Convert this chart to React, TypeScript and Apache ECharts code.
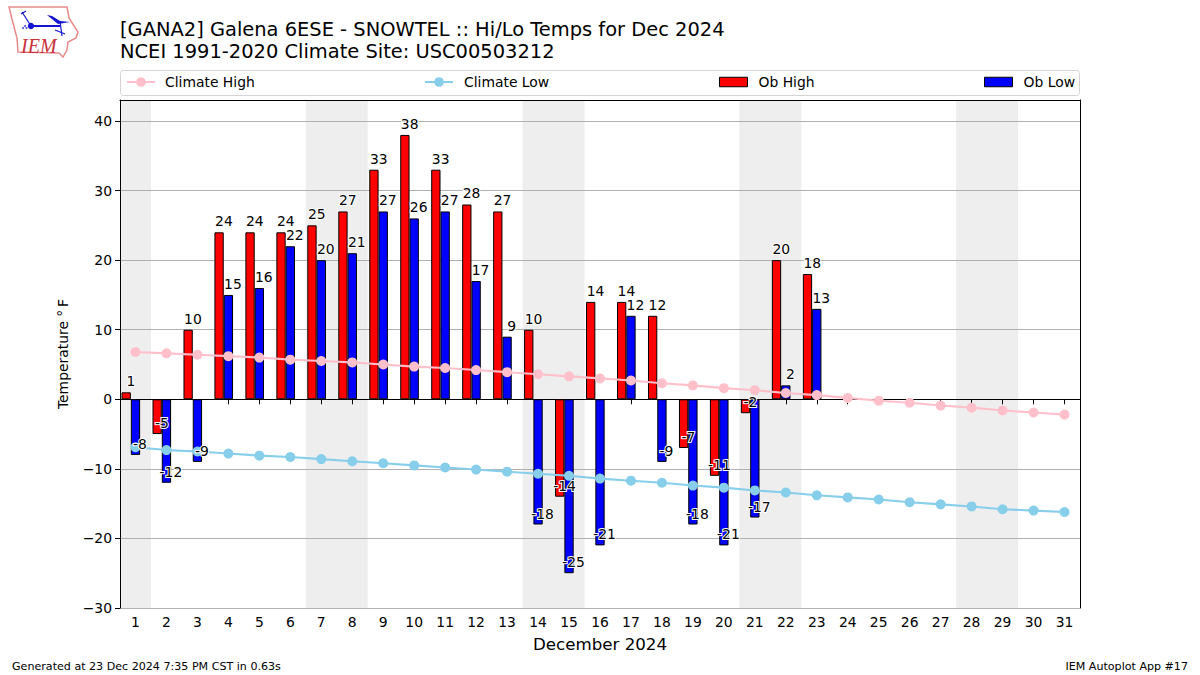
import React, { useEffect, useRef } from "react";
import * as echarts from "echarts";

const titleLines = [
  "[GANA2] Galena 6ESE - SNOWTEL :: Hi/Lo Temps for Dec 2024",
  "NCEI 1991-2020 Climate Site: USC00503212",
];
const footerLeft = "Generated at 23 Dec 2024 7:35 PM CST in 0.63s";
const footerRight = "IEM Autoplot App #17";
const days = Array.from({ length: 31 }, (_, i) => String(i + 1));
const yTicks = [-30, -20, -10, 0, 10, 20, 30, 40];
const obHigh = [1, -5, 10, 24, 24, 24, 25, 27, 33, 38, 33, 28, 27, 10, -14, 14, 14, 12, -7, -11, -2, 20, 18];
const obLow = [-8, -12, -9, 15, 16, 22, 20, 21, 27, 26, 27, 17, 9, -18, -25, -21, 12, -9, -18, -21, -17, 2, 13];
const climateHigh = [6.8, 6.6, 6.4, 6.2, 6.0, 5.7, 5.5, 5.3, 5.0, 4.7, 4.5, 4.2, 3.9, 3.6, 3.3, 3.0, 2.7, 2.3, 2.0, 1.6, 1.3, 0.9, 0.6, 0.2, -0.2, -0.5, -0.9, -1.2, -1.6, -1.9, -2.2];
const climateLow = [-6.9, -7.3, -7.5, -7.8, -8.1, -8.3, -8.6, -8.9, -9.2, -9.5, -9.8, -10.1, -10.4, -10.7, -11.0, -11.4, -11.7, -12.0, -12.4, -12.7, -13.1, -13.4, -13.8, -14.1, -14.4, -14.8, -15.1, -15.4, -15.8, -16.0, -16.2];
const weekendBands = [[0.5, 1.5], [6.5, 8.5], [13.5, 15.5], [20.5, 22.5], [27.5, 29.5]];

const FONT = "DejaVu Sans";

const valueLabels = (name: string, data: number[], dx: number) => ({
  name,
  type: "scatter",
  z: 6,
  silent: true,
  data,
  symbolSize: 1,
  itemStyle: { color: "transparent", opacity: 1 },
  label: {
    show: true,
    position: "inside",
    offset: [dx, -11],
    color: "#000",
    fontFamily: FONT,
    fontSize: 13.9,
    textBorderColor: "#fff",
    textBorderWidth: 2,
  },
});

const barSeries = (name: string, data: number[], color: string) => ({
  name,
  type: "bar",
  z: 2,
  data,
  barWidth: 9.3,
  barGap: "0%",
  itemStyle: { color, borderColor: "#000", borderWidth: 1 },
});

const lineSeries = (name: string, data: number[], color: string) => ({
  name,
  type: "line",
  z: 4,
  data,
  color,
  symbol: "circle",
  symbolSize: 10,
  showSymbol: true,
  lineStyle: { color, width: 2.1 },
  itemStyle: { color },
});

const lineLegend = (name: string, left: number, gap: number) => ({
  show: true,
  data: [name],
  left,
  top: 75,
  itemWidth: 28,
  itemHeight: 12,
  selectedMode: false,
  padding: 0,
  textStyle: { fontFamily: FONT, fontSize: 13.9, color: "#000", padding: [0, 0, 0, gap] },
});

const barLegend = (name: string, left: number) => ({
  show: true,
  data: [{ name, icon: "rect" }],
  left,
  top: 75,
  itemWidth: 28,
  itemHeight: 9.5,
  selectedMode: false,
  padding: 0,
  itemStyle: { borderColor: "#000", borderWidth: 1 },
  textStyle: { fontFamily: FONT, fontSize: 13.9, color: "#000", padding: [0, 0, 0, 6] },
});

const logoOutline = [[9, 7], [67, 7], [69, 18], [78, 32], [76, 38], [68, 42], [67, 50], [63, 57], [59, 53], [18, 52], [17, 38], [13, 23]];
const logoWing = [[47, 15], [52, 16], [60, 21], [70, 22], [58, 24]];
const logoBlue = "#1414d2";

const App = () => {
  const ref = useRef<HTMLDivElement>(null);
  useEffect(() => {
    document.body.style.margin = "0";
    const chart = echarts.init(ref.current!, undefined, { renderer: "svg" });
    chart.setOption({
      animation: false,
      backgroundColor: "#fff",
      title: {
        text: titleLines.join("\n"),
        left: 120,
        top: 18,
        padding: 0,
        textStyle: { fontFamily: FONT, fontSize: 19.45, fontWeight: "normal", color: "#000", lineHeight: 22 },
      },
      legend: [
        lineLegend("Climate High", 126, 5),
        lineLegend("Climate Low", 424, 6),
        barLegend("Ob High", 719),
        barLegend("Ob Low", 984),
      ],
      grid: { left: 120, top: 100, width: 960, height: 508, containLabel: false },
      xAxis: [
        {
          type: "category",
          data: days,
          name: "December 2024",
          nameLocation: "middle",
          nameGap: 28,
          nameTextStyle: { fontFamily: FONT, fontSize: 16.67, color: "#000" },
          axisLine: { lineStyle: { color: "#000", width: 1 } },
          axisTick: { show: true, alignWithLabel: true, length: 5, lineStyle: { color: "#000" } },
          axisLabel: { interval: 0, margin: 7, fontFamily: FONT, fontSize: 13.9, color: "#000" },
          splitLine: { show: false },
        },
        {
          type: "value",
          position: "top",
          min: 0.5,
          max: 31.5,
          axisLine: { show: true, onZero: false, lineStyle: { color: "#000", width: 1 } },
          axisTick: { show: false },
          axisLabel: { show: false },
          splitLine: { show: false },
        },
      ],
      yAxis: [
        {
          type: "value",
          min: -30,
          max: 43.02,
          name: "Temperature °\u2009F",
          nameLocation: "middle",
          nameGap: 50,
          nameTextStyle: { fontFamily: FONT, fontSize: 13.9, color: "#000" },
          axisLine: { show: true, onZero: false, lineStyle: { color: "#000", width: 1 } },
          axisTick: { show: true, length: 5, lineStyle: { color: "#000" }, customValues: yTicks },
          axisLabel: { margin: 8, fontFamily: FONT, fontSize: 13.9, color: "#000", customValues: yTicks, formatter: (v: number) => String(v).replace("-", "\u2212") },
          splitLine: { show: true, lineStyle: { color: "#b0b0b0", width: 1 } },
        },
        {
          type: "value",
          position: "right",
          min: -30,
          max: 43.02,
          axisLine: { show: true, onZero: false, lineStyle: { color: "#000", width: 1 } },
          axisTick: { show: false },
          axisLabel: { show: false },
          splitLine: { show: false },
        },
      ],
      series: [
        {
          name: "bands",
          type: "line",
          xAxisIndex: 1,
          yAxisIndex: 0,
          z: -1,
          data: [],
          silent: true,
          markArea: {
            silent: true,
            z: -1,
            itemStyle: { color: "#eeeeee" },
            data: weekendBands.map(([a, b]) => [{ xAxis: a }, { xAxis: b }]),
          },
        },
        barSeries("Ob High", obHigh, "#ff0000"),
        barSeries("Ob Low", obLow, "#0000ff"),
        barSeries("spacer", [], "transparent"),
        lineSeries("Climate High", climateHigh, "#ffc0cb"),
        lineSeries("Climate Low", climateLow, "#87ceeb"),
        valueLabels("High labels", obHigh, -4.5),
        valueLabels("Low labels", obLow, 4.5),
      ],
      graphic: [
        {
          type: "rect",
          shape: { x: 120.5, y: 70.5, width: 959, height: 25, r: 3 },
          style: { fill: "none", stroke: "#d4d4d4", lineWidth: 1 },
          z: 1,
        },
        {
          type: "polygon",
          shape: { points: logoOutline },
          style: { fill: "#fff", stroke: "#e88a8a", lineWidth: 1.5 },
        },
        { type: "line", shape: { x1: 22, y1: 12, x2: 31, y2: 26 }, style: { stroke: logoBlue, lineWidth: 1.2 } },
        { type: "line", shape: { x1: 21, y1: 14, x2: 26, y2: 11 }, style: { stroke: logoBlue, lineWidth: 1.2 } },
        { type: "line", shape: { x1: 31, y1: 26, x2: 60, y2: 26 }, style: { stroke: logoBlue, lineWidth: 2 } },
        { type: "line", shape: { x1: 60, y1: 21, x2: 62, y2: 36 }, style: { stroke: logoBlue, lineWidth: 1.2 } },
        { type: "line", shape: { x1: 55, y1: 30, x2: 65, y2: 34 }, style: { stroke: logoBlue, lineWidth: 1.2 } },
        { type: "circle", shape: { cx: 31, cy: 26, r: 3.2 }, style: { fill: logoBlue } },
        { type: "circle", shape: { cx: 25, cy: 26, r: 1 }, style: { fill: "#5050d8" } },
        { type: "circle", shape: { cx: 23, cy: 28, r: 1 }, style: { fill: "#5050d8" } },
        { type: "circle", shape: { cx: 26.5, cy: 28, r: 1 }, style: { fill: "#5050d8" } },
        { type: "polygon", shape: { points: logoWing }, style: { fill: logoBlue } },
        {
          type: "text",
          x: 21,
          y: 36,
          style: { text: "IEM", fontFamily: "Liberation Serif", fontStyle: "italic", fontSize: 20, fill: "#c8323c" },
        },
        {
          type: "text",
          x: 12,
          y: 661,
          style: { text: footerLeft, fontFamily: FONT, fontSize: 11.1, fill: "#000" },
        },
        {
          type: "text",
          x: 1188,
          y: 661,
          style: { text: footerRight, fontFamily: FONT, fontSize: 11.1, fill: "#000", textAlign: "right" },
        },
      ],
    });
    return () => chart.dispose();
  }, []);
  return <div ref={ref} style={{ position: "absolute", left: 0, top: 0, width: 1200, height: 675 }} />;
};

export default App;
